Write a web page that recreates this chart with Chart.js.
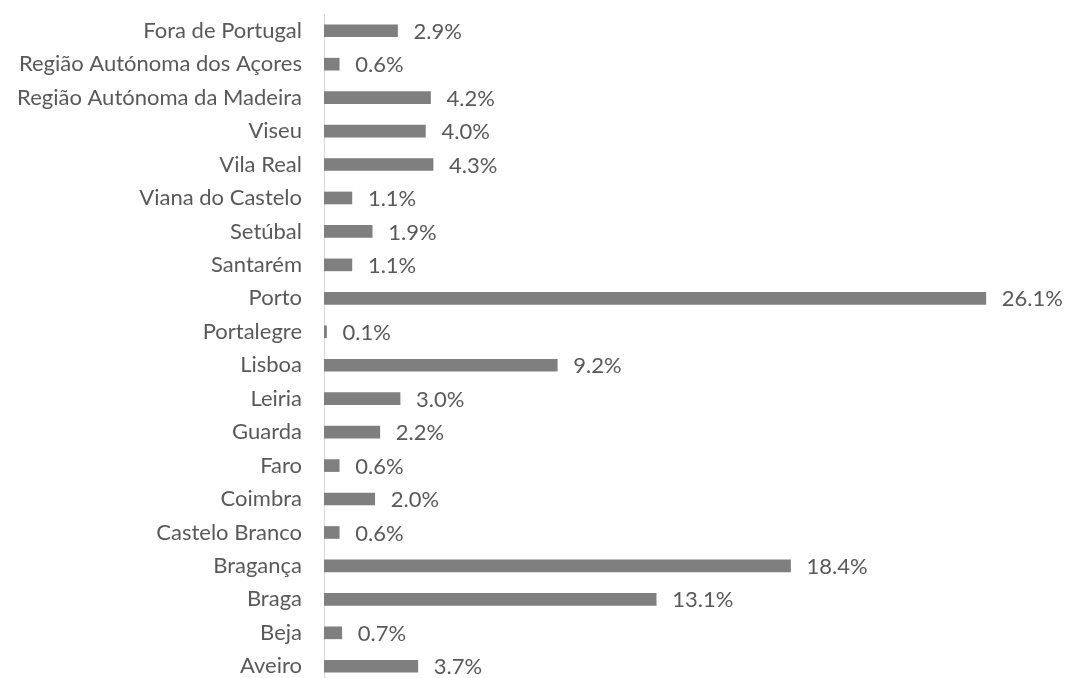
<!DOCTYPE html>
<html>
<head>
<meta charset="utf-8">
<script src="https://cdn.jsdelivr.net/npm/chart.js@4"></script>
<style>
  html, body { margin: 0; padding: 0; background: #fff; overflow: hidden; }
  #wrap { position: relative; width: 1066px; height: 683px; }
</style>
</head>
<body>
<div id="wrap"><canvas id="chart-canvas"></canvas></div>
<script>
// categories, top to bottom as shown
var regions = ["Fora de Portugal", "Região Autónoma dos Açores", "Região Autónoma da Madeira",
    "Viseu", "Vila Real", "Viana do Castelo", "Setúbal", "Santarém", "Porto", "Portalegre",
    "Lisboa", "Leiria", "Guarda", "Faro", "Coimbra", "Castelo Branco", "Bragança", "Braga",
    "Beja", "Aveiro"];
// share of students (%)
var shares = [2.9, 0.6, 4.2, 4.0, 4.3, 1.1, 1.9, 1.1, 26.1, 0.1,
    9.2, 3.0, 2.2, 0.6, 2.0, 0.6, 18.4, 13.1, 0.7, 3.7];

var textColor = "#595959";
var fontFamily = "Lato, 'Open Sans', sans-serif";

// draws the "x.x%" label right of each bar
var valueLabels = {
    id: "valueLabels",
    afterDatasetsDraw: function (chart) {
        var ctx = chart.ctx;
        var meta = chart.getDatasetMeta(0);
        ctx.save();
        ctx.font = "22px " + fontFamily;
        ctx.fillStyle = textColor;
        ctx.textAlign = "left";
        ctx.textBaseline = "middle";
        meta.data.forEach(function (bar, i) {
            ctx.fillText(shares[i].toFixed(1) + "%", bar.x + 16, bar.y + 1);
        });
        ctx.restore();
    }
};

var ctx = document.getElementById('chart-canvas').getContext('2d');
var myChart = new Chart(ctx, {
    type: 'bar',
    data: {
        labels: regions,
        datasets: [{
            data: shares,
            backgroundColor: "#7f7f7f",
            barThickness: 12
        }]
    },
    options: {
        indexAxis: 'y',
        responsive: true,
        maintainAspectRatio: false,
        animation: false,
        layout: { padding: { top: 14, right: 32, bottom: 0, left: 0 } },
        plugins: {
            legend: { display: false },
            tooltip: { enabled: false }
        },
        scales: {
            x: {
                display: false,
                min: 0,
                max: 28
            },
            y: {
                grid: { display: false, drawTicks: false },
                border: { display: true, color: "#d9d9d9", width: 1 },
                ticks: {
                    autoSkip: false,
                    padding: 22,
                    color: textColor,
                    font: { family: fontFamily, size: 22 }
                },
                afterFit: function (scale) {
                    scale.width = 324;
                    scale.paddingTop = 0;
                    scale.paddingBottom = 0;
                }
            }
        }
    },
    plugins: [valueLabels]
});
</script>
</body>
</html>
